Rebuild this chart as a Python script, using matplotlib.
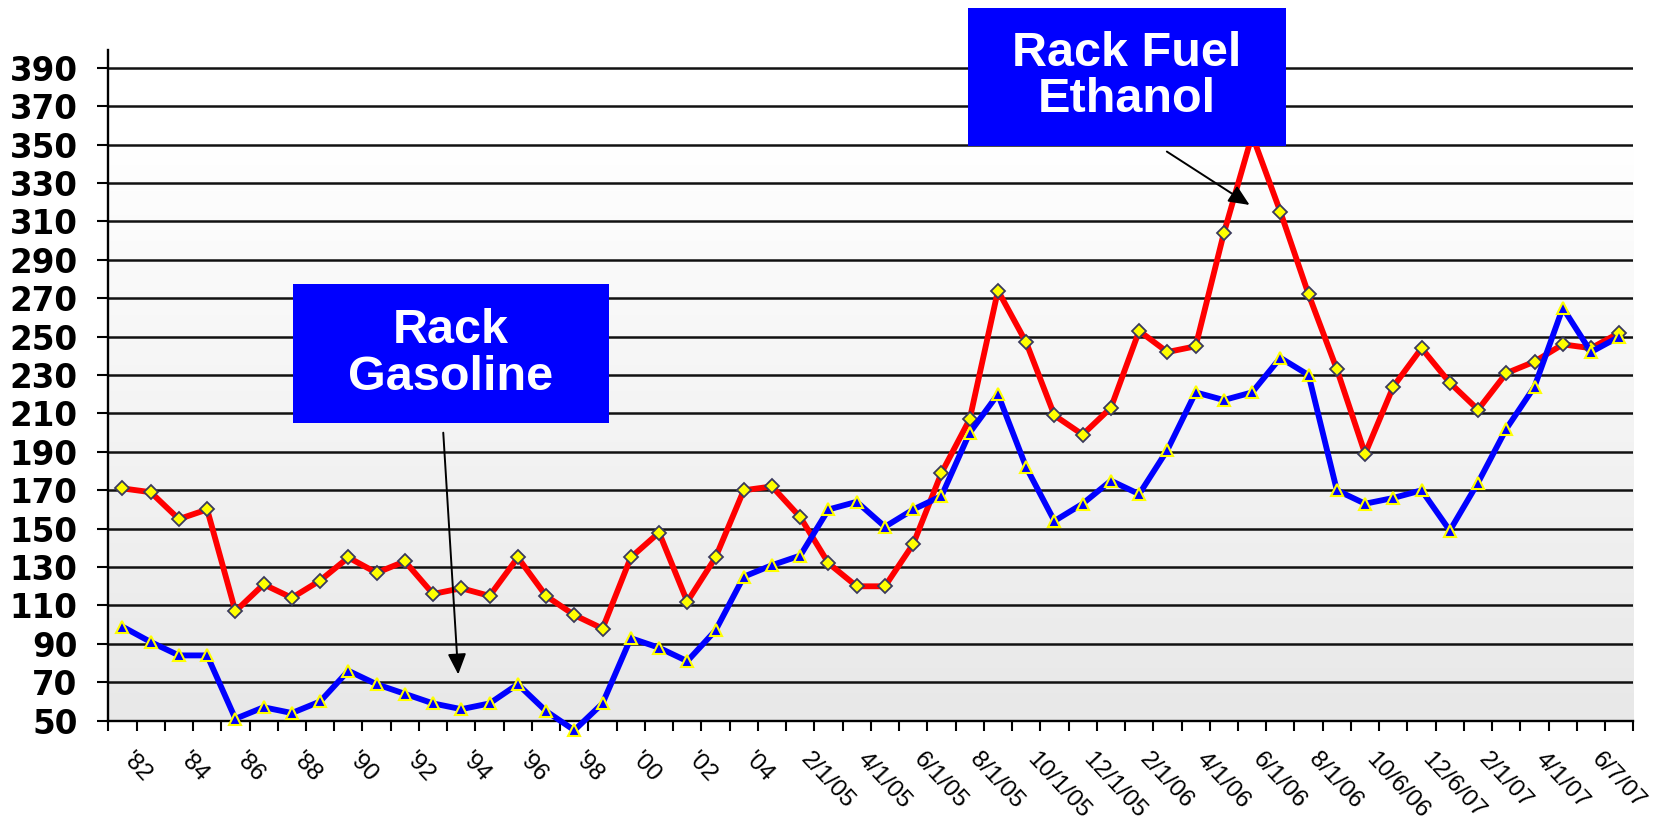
import matplotlib
matplotlib.use("Agg")
import matplotlib.pyplot as plt
import numpy as np
from matplotlib.patches import Rectangle
from matplotlib.colors import LinearSegmentedColormap
from matplotlib.transforms import ScaledTranslation

# Category tick labels (every other category is labelled)
tick_labels = ["'82", "'84", "'86", "'88", "'90", "'92", "'94", "'96", "'98",
               "'00", "'02", "'04", "2/1/05", "4/1/05", "6/1/05", "8/1/05",
               "10/1/05", "12/1/05", "2/1/06", "4/1/06", "6/1/06", "8/1/06",
               "10/6/06", "12/6/07", "2/1/07", "4/1/07", "6/7/07"]

# Rack fuel ethanol price (cents per gallon)
ethanol = [171, 169, 155, 160, 107, 121, 114, 123, 135, 127, 133, 116, 119, 115,
           135, 115, 105, 98, 135, 148, 112, 135, 170, 172, 156, 132, 120, 120,
           142, 179, 207, 274, 247, 209, 199, 213, 253, 242, 245, 304, 355, 315,
           272, 233, 189, 224, 244, 226, 212, 231, 237, 246, 244, 252]

# Rack gasoline price (cents per gallon)
gasoline = [99, 91, 84, 84, 51, 57, 54, 60, 76, 69, 64, 59, 56, 59,
            69, 55, 45, 59, 93, 88, 81, 97, 125, 131, 136, 160, 164, 151,
            160, 167, 200, 220, 182, 154, 163, 175, 168, 191, 221, 217, 221, 239,
            230, 170, 163, 166, 170, 149, 174, 202, 224, 265, 242, 250]

y_ticks = list(range(50, 391, 20))

FONT = "Liberation Sans"
W, H = 1663, 823
fig = plt.figure(figsize=(W / 100, H / 100), dpi=100)
ax = fig.add_axes([108.3 / W, 1 - 720.7 / H, (1633.4 - 108.3) / W, (720.7 - 50) / H])

n = len(ethanol)
x = np.arange(n)
x0, x1 = -0.5, n - 0.5
y0, y1 = 50, 399.3

# plot-area background: white at top fading to light grey at the bottom
grad = np.linspace(1, 0, 256).reshape(-1, 1)
grad = np.clip(grad * 1.15, 0, 1)
cmap = LinearSegmentedColormap.from_list("bg", ["#e8e8e8", "#ffffff"])
ax.imshow(grad, extent=[x0, x1, y0, y1], aspect="auto", cmap=cmap,
          origin="upper", zorder=0, vmin=0, vmax=1)

ax.set_xlim(x0, x1)
ax.set_ylim(y0, y1)

# horizontal gridlines
ax.set_yticks(y_ticks)
ax.yaxis.grid(True, color="#111111", linewidth=1.8)
ax.set_axisbelow(True)

ax.plot(x, ethanol, color="#ff0000", linewidth=4.2, marker="D", markersize=7,
        markerfacecolor="#ffff00", markeredgecolor="#3a3a5c", markeredgewidth=1.3,
        clip_on=False, zorder=3)
ax.plot(x, gasoline, color="#0000ff", linewidth=4.2, marker="^", markersize=9,
        markerfacecolor="#0000ff", markeredgecolor="#ffff00", markeredgewidth=1.5,
        clip_on=False, zorder=4)

# spines
for side in ("top", "right"):
    ax.spines[side].set_visible(False)
for side in ("left", "bottom"):
    ax.spines[side].set_linewidth(1.7)
    ax.spines[side].set_color("black")
    ax.spines[side].set_zorder(2.5)

# y axis labels
ax.tick_params(axis="y", which="major", direction="out", length=8, width=1.5,
               pad=14, labelsize=23.5)
for lab in ax.get_yticklabels():
    lab.set_fontfamily("DejaVu Sans")
    lab.set_fontweight("bold")

# x axis: tick marks between categories, labels on every other category
ax.set_xticks(np.arange(n + 1) - 0.5)
ax.set_xticklabels([])
ax.tick_params(axis="x", which="major", direction="out", length=7.5, width=1.5)
ax.set_xticks(x[::2], minor=True)
ax.set_xticklabels(tick_labels, minor=True)
ax.tick_params(axis="x", which="minor", length=0, pad=20, labelsize=17.5)
shift = ScaledTranslation(12 / 100, 0, fig.dpi_scale_trans)
for lab in ax.get_xticklabels(minor=True):
    lab.set_fontfamily(FONT)
    lab.set_rotation(-47)
    lab.set_rotation_mode("anchor")
    lab.set_ha("left")
    lab.set_va("top")
    lab.set_transform(lab.get_transform() + shift)

# callout boxes
def callout(xa, xb, ya, yb, text):
    ax.add_patch(Rectangle((xa, ya), xb - xa, yb - ya, facecolor="#0000ff",
                           edgecolor="none", clip_on=False, zorder=6))
    ax.text((xa + xb) / 2, (ya + yb) / 2, text, ha="center", va="center",
            color="white", fontsize=35, fontweight="bold", fontfamily=FONT,
            linespacing=1.05, zorder=7, clip_on=False)

callout(6.03, 17.24, 204.9, 277.4, "Rack\nGasoline")
callout(29.94, 41.2, 349.5, 421.4, "Rack Fuel\nEthanol")

arrow = dict(arrowstyle="-|>,head_length=0.9,head_width=0.4", color="black",
             linewidth=1.4, shrinkA=0, shrinkB=0, mutation_scale=14)
ax.annotate("", xy=(11.89, 74.1), xytext=(11.36, 200.0), arrowprops=arrow,
            zorder=8, annotation_clip=False)
ax.annotate("", xy=(39.91, 318.6), xytext=(36.98, 346.4), arrowprops=arrow,
            zorder=8, annotation_clip=False)

fig.savefig("out.png", dpi=100, facecolor="white")
